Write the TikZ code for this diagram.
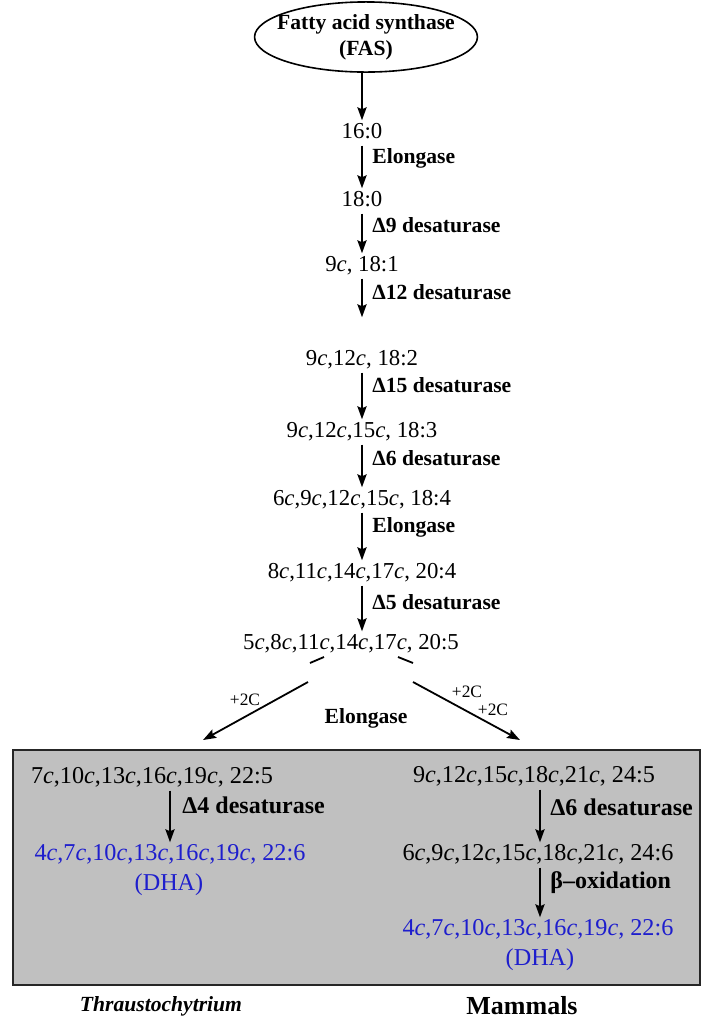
\documentclass[tikz,border=0pt]{standalone}
\usepackage{fontspec}
\setmainfont{Liberation Serif}
\usepackage{tikz}
\usetikzlibrary{shapes.geometric,arrows.meta,positioning}
\definecolor{panelgray}{RGB}{192,192,192}
\definecolor{dhablue}{RGB}{30,30,205}
\tikzset{>={Stealth[length=6.5pt,width=4.6pt,inset=1pt]}}
\tikzset{
  acid/.style={font=\fontsize{11.4}{13}\selectfont,inner sep=1pt,text height=8pt,text depth=2.3pt},
  boxacid/.style={acid,font=\fontsize{12.1}{14}\selectfont},
  dha/.style={boxacid,text=dhablue},
  enzyme/.style={font=\bfseries\fontsize{10.8}{13}\selectfont,anchor=west,inner sep=0pt},
  boxenzyme/.style={enzyme,font=\bfseries\fontsize{12}{14}\selectfont},
  plus/.style={font=\fontsize{8.7}{10}\selectfont,inner sep=0pt},
  step arrow/.style={->,line width=0.9pt},
}
\newcommand{\cbond}[1]{#1\textit{c}}

\begin{document}
\begin{tikzpicture}[x=0.5pt,y=-0.5pt]
    \useasboundingbox (0,0) rectangle (702,1019);
    % shaded panel of the two routes
    \draw [line width=1.2pt,draw=black!85,fill=panelgray] (13,750) rectangle (700,985);
    % main chain
    \node [ellipse,draw,line width=0.8pt,inner xsep=-5pt,inner ysep=1pt,
      align=center,font=\bfseries\fontsize{10.8}{13}\selectfont] (fas) at (366,37) {Fatty acid synthase\\(FAS)};
    \node [acid] (c160) at (362,133) {16:0};
    \node [acid] (c180) at (362,201) {18:0};
    \node [acid] (c181) at (362,266) {\cbond{9}, 18:1};
    \node [acid] (c182) at (362,360) {\cbond{9},\cbond{12}, 18:2};
    \node [acid] (c183) at (362,432) {\cbond{9},\cbond{12},\cbond{15}, 18:3};
    \node [acid] (c184) at (362,500) {\cbond{6},\cbond{9},\cbond{12},\cbond{15}, 18:4};
    \node [acid] (c204) at (362,573) {\cbond{8},\cbond{11},\cbond{14},\cbond{17}, 20:4};
    \node [acid] (c205) at (351,644) {\cbond{5},\cbond{8},\cbond{11},\cbond{14},\cbond{17}, 20:5};
    \draw [step arrow] (fas.south -| c160) -- (c160.north);
    \draw [step arrow] (c160.south) -- (c180.north);
    \draw [step arrow] (c180.south) -- (c181.north);
    \draw [step arrow,shorten >=15pt] (c181.south) -- (c182.north);
    \draw [step arrow] (c182.south) -- (c183.north);
    \draw [step arrow] (c183.south) -- (c184.north);
    \draw [step arrow] (c184.south) -- (c204.north);
    \draw [step arrow] (c204.south) -- (c204.south |- c205.north);
    \node [enzyme] (e1) at (372,158) {Elongase};
    \node [enzyme] (e2) at (372,225) {Δ9 desaturase};
    \node [enzyme] (e3) at (372,292) {Δ12 desaturase};
    \node [enzyme] (e4) at (372,385) {Δ15 desaturase};
    \node [enzyme] (e5) at (372,458) {Δ6 desaturase};
    \node [enzyme] (e6) at (372,527) {Elongase};
    \node [enzyme] (e7) at (372,602) {Δ5 desaturase};
    % split into the two routes
    \coordinate (lstub1) at (324,657);
    \coordinate (lstub2) at (310,663);
    \coordinate (rstub1) at (398,657);
    \coordinate (rstub2) at (413,663);
    \coordinate (lsplit) at (308,682);
    \coordinate (rsplit) at (413,682);
    \coordinate (ltip) at (203,740);
    \coordinate (rtip) at (520,740);
    \draw [line width=0.9pt] (lstub1) -- (lstub2);
    \draw [line width=0.9pt] (rstub1) -- (rstub2);
    \draw [step arrow] (lsplit) -- (ltip);
    \draw [step arrow] (rsplit) -- (rtip);
    \node [plus] (p1) at (245,700) {+2C};
    \node [plus] (p2) at (467,692) {+2C};
    \node [plus] (p3) at (493,710) {+2C};
    \node [enzyme,anchor=center] (e8) at (366,718) {Elongase};
    % Thraustochytrium route
    \node [boxacid] (t225) at (152,778) {\cbond{7},\cbond{10},\cbond{13},\cbond{16},\cbond{19}, 22:5};
    \node [dha] (t226) at (170,855) {\cbond{4},\cbond{7},\cbond{10},\cbond{13},\cbond{16},\cbond{19}, 22:6};
    \node [dha] (tdha) at (169,885) {(DHA)};
    \draw [step arrow] (t225.south -| t226) -- (t226.north);
    \node [boxenzyme] (e9) at (182,805) {Δ4 desaturase};
    % mammal route
    \node [boxacid] (m245) at (534,777) {\cbond{9},\cbond{12},\cbond{15},\cbond{18},\cbond{21}, 24:5};
    \node [boxacid] (m246) at (538,855) {\cbond{6},\cbond{9},\cbond{12},\cbond{15},\cbond{18},\cbond{21}, 24:6};
    \node [dha] (m226) at (538,930) {\cbond{4},\cbond{7},\cbond{10},\cbond{13},\cbond{16},\cbond{19}, 22:6};
    \node [dha] (mdha) at (540,960) {(DHA)};
    \draw [step arrow] (m245.south -| 540,0) -- (m246.north -| 540,0);
    \draw [step arrow] (m246.south -| 540,0) -- (m226.north -| 540,0);
    \node [boxenzyme] (e10) at (550,807) {Δ6 desaturase};
    \node [boxenzyme] (e11) at (550,883) {β--oxidation};
    % organisms
    \node [font=\bfseries\itshape\fontsize{10.8}{13}\selectfont] (thr) at (161,1006) {Thraustochytrium};
    \node [font=\bfseries\fontsize{13}{15}\selectfont,inner sep=0.5pt] (mam) at (522,1006) {Mammals};
\end{tikzpicture}
\end{document}
